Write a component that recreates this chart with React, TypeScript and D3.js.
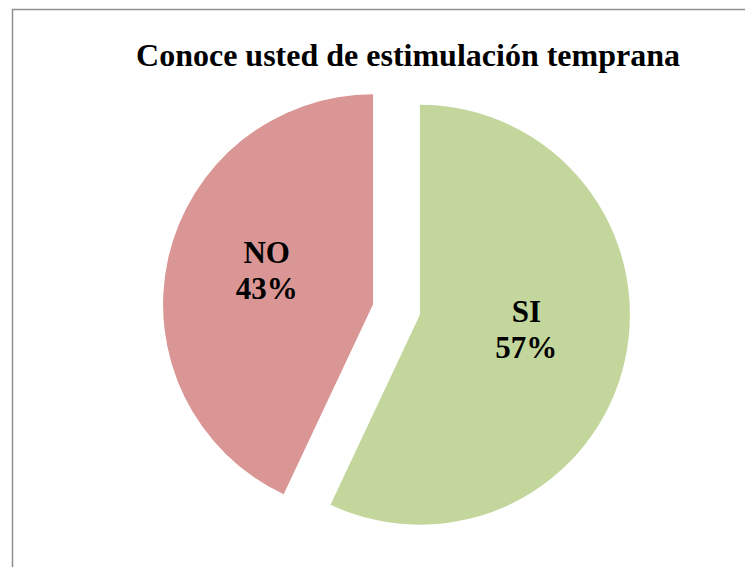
import React from "react";
import * as d3 from "d3";

const categories = ["SI", "NO"];
const values = [57, 43];
const colors = ["#C3D69B", "#D99694"];
const title = "Conoce usted de estimulación temprana";

const FONT = '"Liberation Serif", Tinos, "Times New Roman", "DejaVu Serif", serif';

export default function App() {
  const W = 745, H = 567;
  const cx = 396.5, cy = 309.5, r = 210, explode = 24, labelR = 109;
  const pie = d3.pie<number>().sort(null).startAngle(0).endAngle(2 * Math.PI);
  const arcs = pie(values);
  const arc = d3.arc<d3.PieArcDatum<number>>().innerRadius(0).outerRadius(r);
  const total = d3.sum(values);
  return (
    <svg width={W} height={H} style={{ position: "absolute", left: 0, top: 0, fontFamily: FONT }}>
      <rect x={12.5} y={9.5} width={900} height={800} fill="#fff" stroke="#8f8f8f" strokeWidth={1.5} />
      <text x={408} y={66} textAnchor="middle" fontWeight="bold" fontSize={32} style={{ fontFamily: FONT }}>{title}</text>
      {arcs.map((a, i) => {
        const mid = (a.startAngle + a.endAngle) / 2;
        const dx = Math.sin(mid), dy = -Math.cos(mid);
        const ox = cx + dx * explode, oy = cy + dy * explode;
        const lx = ox + dx * labelR, ly = oy + dy * labelR;
        const pct = Math.round((values[i] / total) * 100);
        return (
          <g key={categories[i]}>
            <path d={arc(a) || ""} transform={`translate(${ox},${oy})`} fill={colors[i]} />
            <text x={lx} y={ly - 17} textAnchor="middle" fontWeight="bold" fontSize={31} style={{ fontFamily: FONT }}>{categories[i]}</text>
            <text x={lx} y={ly + 19} textAnchor="middle" fontWeight="bold" fontSize={31} style={{ fontFamily: FONT }}>{pct}%</text>
          </g>
        );
      })}
    </svg>
  );
}
